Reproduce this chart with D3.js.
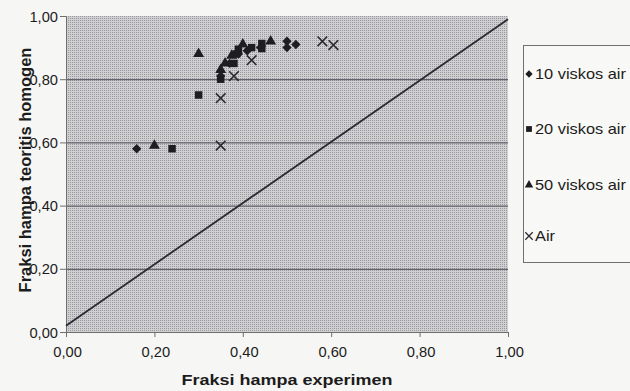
<!DOCTYPE html>
<html>
<head>
<meta charset="utf-8">
<script src="https://cdn.jsdelivr.net/npm/d3@7"></script>
<style>
  html, body { margin: 0; padding: 0; background: #f6f6f4; }
  svg { display: block; }
  text { font-family: "Liberation Sans", Arial, sans-serif; fill: #1c1c1c; }
</style>
</head>
<body>
<svg id="chart" width="630" height="391"></svg>
<script>
// ---- data ----
const seriesNames = ["10 viskos air", "20 viskos air", "50 viskos air", "Air"];
const visc10 = [[0.16,0.58],[0.35,0.81],[0.37,0.85],[0.39,0.88],[0.41,0.89],[0.44,0.90],[0.50,0.92],[0.50,0.90],[0.52,0.91]];
const visc20 = [[0.24,0.58],[0.30,0.75],[0.35,0.80],[0.38,0.85],[0.386,0.88],[0.39,0.895],[0.42,0.90],[0.443,0.913],[0.443,0.897]];
const visc50 = [[0.20,0.59],[0.30,0.88],[0.35,0.83],[0.36,0.85],[0.375,0.875],[0.40,0.91],[0.463,0.92]];
const airPts = [[0.35,0.59],[0.35,0.74],[0.38,0.81],[0.42,0.86],[0.58,0.92],[0.605,0.908]];
const refLine = [[0,0.02],[1,0.99]];
const xTicks = [0,0.2,0.4,0.6,0.8,1.0];
const yTicks = [0,0.2,0.4,0.6,0.8,1.0];
const xTitle = "Fraksi hampa experimen";
const yTitle = "Fraksi hampa teoritis homogen";

// ---- layout ----
const L = 66, R = 508, T = 16, B = 332;
const svg = d3.select("#chart");
const x = d3.scaleLinear().domain([0,1]).range([L,R]);
const y = d3.scaleLinear().domain([0,1]).range([B,T]);
const fmt = v => d3.format(".2f")(v).replace(".", ",");

// halftone-like background pattern
const defs = svg.append("defs");
const pat = defs.append("pattern").attr("id","dots").attr("width",2).attr("height",2)
  .attr("patternUnits","userSpaceOnUse");
pat.append("rect").attr("width",2).attr("height",2).attr("fill","#d0d0d3");
pat.append("rect").attr("width",1).attr("height",1).attr("fill","#97979c");

svg.append("rect").attr("x",L).attr("y",T).attr("width",R-L).attr("height",B-T)
  .attr("fill","url(#dots)");

// gridlines
svg.append("g").selectAll("line").data(yTicks.filter(d => d>0 && d<1)).join("line")
  .attr("x1",L).attr("x2",R).attr("y1",d=>y(d)+0.5).attr("y2",d=>y(d)+0.5)
  .attr("stroke","#4a4a55").attr("stroke-width",1);

// axes
const sx = 1.05;
const gx = svg.append("g").attr("transform",`translate(0,${B})`)
  .call(d3.axisBottom(x).tickValues(xTicks).tickFormat(fmt).tickSizeInner(5).tickSizeOuter(0));
const gy = svg.append("g").attr("transform",`translate(${L},0)`)
  .call(d3.axisLeft(y).tickValues(yTicks).tickFormat(fmt).tickSizeInner(6).tickSizeOuter(0));
[gx, gy].forEach(g => {
  g.select(".domain").attr("stroke","#6e6e6e");
  g.selectAll(".tick line").attr("stroke","#6e6e6e");
  g.selectAll(".tick text").attr("font-size",14).attr("fill","#1c1c1c")
    .style("font-family","'Liberation Sans', Arial, sans-serif");
});
gx.selectAll(".tick text").attr("y",null).attr("dy",null)
  .attr("transform",`translate(1,25) scale(${sx},1)`);
gy.selectAll(".tick text").attr("x",null).attr("dy",null)
  .attr("transform",`translate(-8,5) scale(${sx},1)`);

// reference line
svg.append("path").datum(refLine)
  .attr("d", d3.line().x(d=>x(d[0])).y(d=>y(d[1])))
  .attr("fill","none").attr("stroke","#2a2a33").attr("stroke-width",1.8);

// markers
const diamondType = d3.symbolDiamond2 || d3.symbolDiamond;
const xType = d3.symbolX || d3.symbolCross;
const series = [
  {name: seriesNames[0], data: visc10, type: diamondType, size: 56, fill: true},
  {name: seriesNames[1], data: visc20, type: d3.symbolSquare, size: 56, fill: true},
  {name: seriesNames[2], data: visc50, type: d3.symbolTriangle, size: 52, fill: true},
  {name: seriesNames[3], data: airPts, type: xType, size: 62, fill: false}
];
series.forEach(s => {
  svg.append("g").selectAll("path").data(s.data).join("path")
    .attr("transform", d => `translate(${x(d[0])},${y(d[1])})`)
    .attr("d", d3.symbol().type(s.type).size(s.size))
    .attr("fill", s.fill ? "#1e1e22" : "none")
    .attr("stroke", s.fill ? "none" : "#2a2a30")
    .attr("stroke-width", s.fill ? 0 : 1.6);
});

// axis titles
svg.append("text").attr("transform",`translate(${(L+R)/2},385) scale(1.2,1)`)
  .attr("text-anchor","middle").attr("font-size",15).attr("font-weight","bold")
  .text(xTitle);
svg.append("text").attr("transform",`translate(31,${(T+B)/2 - 4}) rotate(-90)`)
  .attr("text-anchor","middle").attr("font-size",16.5).attr("font-weight","bold")
  .text(yTitle);

// legend
const lg = svg.append("g");
lg.append("rect").attr("x",523.5).attr("y",45.5).attr("width",130).attr("height",217)
  .attr("fill","#f8f8f6").attr("stroke","#707070").attr("stroke-width",1);
const legY = [74, 129, 185, 236];
series.forEach((s,i) => {
  lg.append("path").attr("transform",`translate(529,${legY[i]})`)
    .attr("d", d3.symbol().type(s.type).size(s.size*0.6))
    .attr("fill", s.fill ? "#1e1e22" : "none")
    .attr("stroke", s.fill ? "none" : "#2a2a30")
    .attr("stroke-width", s.fill ? 0 : 1.3);
  lg.append("text").attr("transform",`translate(535,${legY[i]+5}) scale(1.17,1)`)
    .attr("font-size",14).text(s.name);
});
</script>
</body>
</html>
